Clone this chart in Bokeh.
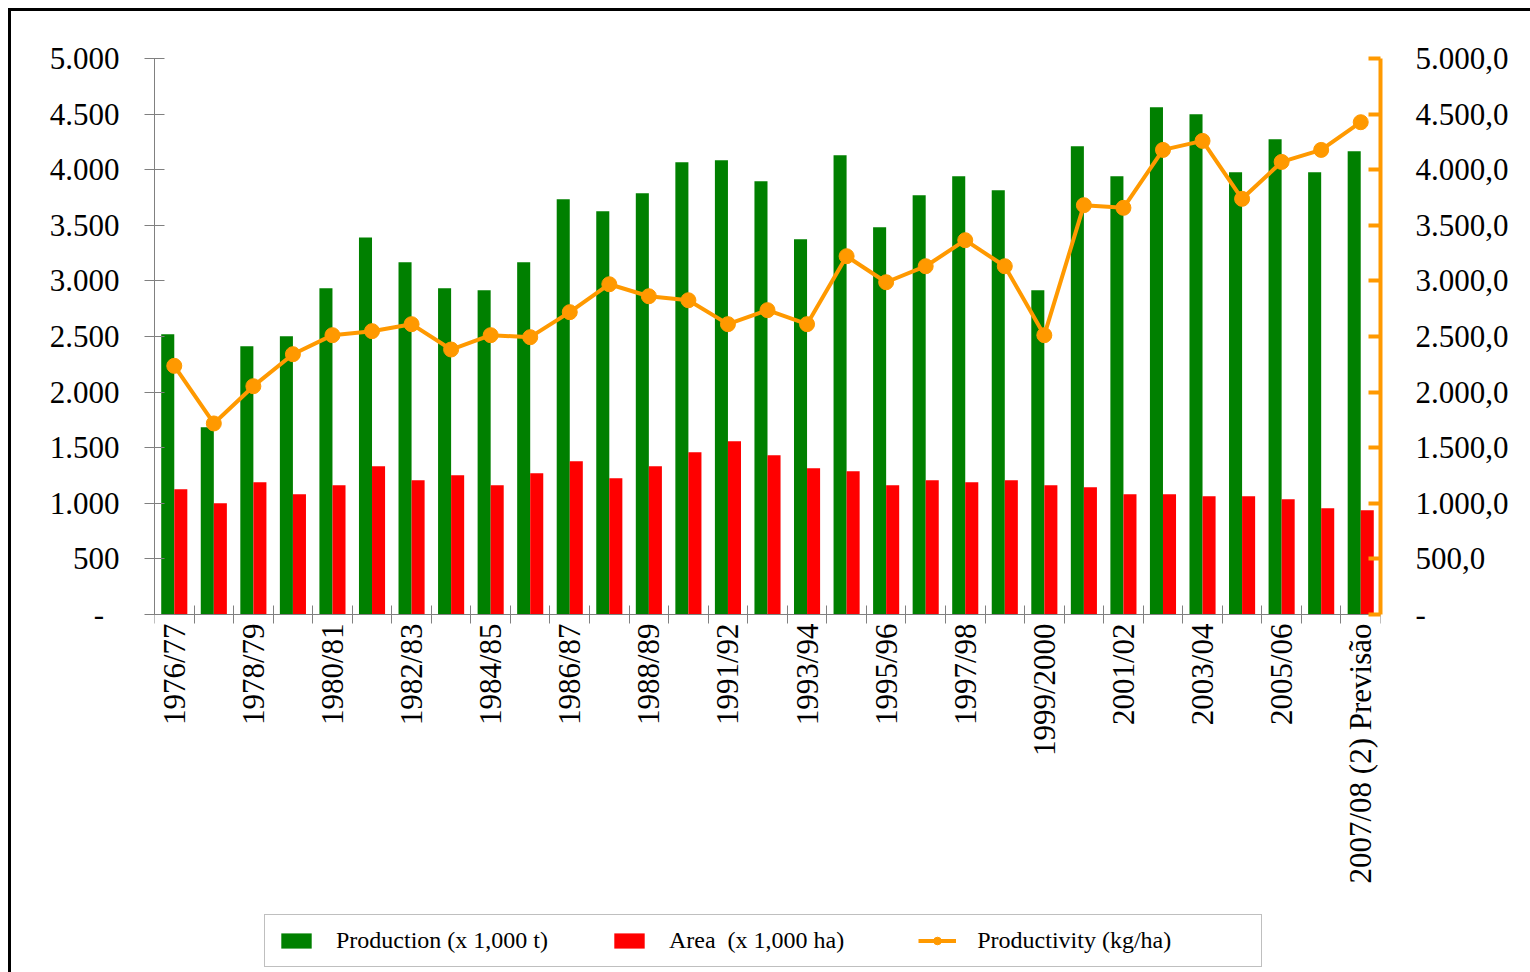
import math
from bokeh.plotting import figure
from bokeh.models import (ColumnDataSource, Range1d, LinearAxis, FixedTicker,
                          Legend, LegendItem)
from bokeh.transform import dodge
from bokeh.embed import file_html
from bokeh.resources import INLINE

CATEGORIES = ["1976/77", "1977/78", "1978/79", "1979/80", "1980/81", "1981/82",
              "1982/83", "1983/84", "1984/85", "1985/86", "1986/87", "1987/88",
              "1988/89", "1989/90", "1991/92", "1992/93", "1993/94", "1994/95",
              "1995/96", "1996/97", "1997/98", "1998/99", "1999/2000", "2000/01",
              "2001/02", "2002/03", "2003/04", "2004/05", "2005/06", "2006/07",
              "2007/08 (2) Previsão"]
PRODUCTION = [2520, 1685, 2413, 2503, 2934, 3390, 3168, 2934, 2916, 3168, 3735,
              3627, 3789, 4067, 4085, 3897, 3375, 4130, 3483, 3771, 3942, 3815,
              2916, 4211, 3942, 4562, 4499, 3978, 4274, 3978, 4166]
AREA = [1127, 1001, 1190, 1082, 1163, 1334, 1208, 1253, 1163, 1271, 1379, 1226,
        1334, 1460, 1558, 1433, 1316, 1289, 1163, 1208, 1190, 1208, 1163, 1145,
        1082, 1082, 1064, 1064, 1037, 956, 938]
PRODUCTIVITY = [2236, 1718, 2053, 2341, 2512, 2548, 2611, 2383, 2512, 2494, 2719,
                2970, 2862, 2826, 2611, 2737, 2611, 3222, 2988, 3132, 3366, 3132,
                2512, 3681, 3657, 4178, 4259, 3738, 4070, 4178, 4427]
Y_TICKS = [0, 500, 1000, 1500, 2000, 2500, 3000, 3500, 4000, 4500, 5000]
LEFT_LABELS = ["-\u00a0\u00a0", "500", "1.000", "1.500", "2.000", "2.500", "3.000",
               "3.500", "4.000", "4.500", "5.000"]
RIGHT_LABELS = ["-", "500,0", "1.000,0", "1.500,0", "2.000,0", "2.500,0", "3.000,0",
                "3.500,0", "4.000,0", "4.500,0", "5.000,0"]
SERIES_NAMES = ["Production (x 1,000 t)", "Area  (x 1,000 ha)", "Productivity (kg/ha)"]

GREEN = "#008000"
RED = "#FF0000"
ORANGE = "#FF9900"
GREY = "#808080"
FONT = "Liberation Serif"

n = len(CATEGORIES)
idx = list(range(n))
src = ColumnDataSource(dict(x=idx, cat=CATEGORIES, prod=PRODUCTION, area=AREA,
                            yld=PRODUCTIVITY))

# layout (canvas pixels; canvas starts 11px into the page)
W, H = 1519, 961
FL, FR, FT = 143, 1369, 47
PLOT_PX = 556                 # pixels between 0 and 5000
FH = 912                      # frame height (extends below the axis for the legend)
Y_MAX = 5000
Y_MIN = -(FH - PLOT_PX) * Y_MAX / PLOT_PX

p = figure(width=W, height=H, output_backend="svg", toolbar_location=None,
           frame_width=FR - FL, frame_height=FH,
           x_range=Range1d(-0.5, n - 0.5), y_range=Range1d(Y_MIN, Y_MAX),
           min_border_left=FL, min_border_right=W - FR, min_border_top=FT,
           min_border_bottom=H - FT - FH)
p.styles = {"border-top": "3px solid black", "border-left": "3px solid black",
            "margin-left": "8px", "margin-top": "8px"}
p.extra_y_ranges = {"right": Range1d(Y_MIN, Y_MAX)}
p.outline_line_color = None
p.xgrid.visible = False
p.ygrid.visible = False
p.background_fill_color = "white"
p.border_fill_color = "white"

g = p.vbar(x=dodge("x", -0.165, range=p.x_range), top="prod", width=0.33,
           source=src, fill_color=GREEN, line_color=None)
r = p.vbar(x=dodge("x", 0.165, range=p.x_range), top="area", width=0.33,
           source=src, fill_color=RED, line_color=None)
ln = p.line(x="x", y="yld", source=src, line_color=ORANGE, line_width=4,
            y_range_name="right")
sc = p.scatter(x="x", y="yld", source=src, size=15, fill_color=ORANGE,
               line_color=ORANGE, y_range_name="right")

# left axis
ya = p.yaxis[0]
ya.ticker = FixedTicker(ticks=Y_TICKS)
ya.bounds = (0, Y_MAX)
ya.major_label_overrides = {t: l for t, l in zip(Y_TICKS, LEFT_LABELS)}
ya.axis_line_color = GREY
ya.major_tick_line_color = GREY
ya.major_tick_in = 10
ya.major_tick_out = 10
ya.minor_tick_line_color = None
ya.major_label_standoff = 25
ya.major_label_text_font = FONT
ya.major_label_text_font_size = "31px"
ya.major_label_text_color = "black"

# right axis
ra = LinearAxis(y_range_name="right", ticker=FixedTicker(ticks=Y_TICKS),
                bounds=(0, Y_MAX))
ra.major_label_overrides = {t: l for t, l in zip(Y_TICKS, RIGHT_LABELS)}
ra.axis_line_color = ORANGE
ra.axis_line_width = 4
ra.major_tick_line_color = ORANGE
ra.major_tick_line_width = 4
ra.major_tick_in = 12
ra.major_tick_out = 0
ra.minor_tick_line_color = None
ra.major_label_standoff = 35
ra.major_label_text_font = FONT
ra.major_label_text_font_size = "31px"
ra.major_label_text_color = "black"
p.add_layout(ra, "right")

# bottom axis, pinned at y = 0
xa = p.xaxis[0]
xa.fixed_location = 0
label_idx = [i for i in idx if i % 2 == 0]
xa.ticker = FixedTicker(ticks=label_idx, minor_ticks=[i - 0.5 for i in range(n + 1)])
xa.major_label_overrides = {i: CATEGORIES[i] for i in label_idx}
xa.major_label_orientation = math.pi / 2
xa.axis_line_color = GREY
xa.major_tick_line_color = None
xa.major_tick_in = 0
xa.major_tick_out = 0
xa.minor_tick_line_color = GREY
xa.minor_tick_in = 9
xa.minor_tick_out = 9
xa.major_label_standoff = 0
xa.major_label_text_font = FONT
xa.major_label_text_font_size = "31px"
xa.major_label_text_color = "black"

nb = "\u00a0"
legend = Legend(items=[
    LegendItem(label=SERIES_NAMES[0] + nb * 5, renderers=[g]),
    LegendItem(label=SERIES_NAMES[1] + nb * 7, renderers=[r]),
    LegendItem(label=SERIES_NAMES[2] + nb * 13, renderers=[ln, sc]),
], orientation="horizontal", location=(110, 3))
legend.glyph_width = 38
legend.glyph_height = 19
legend.label_standoff = 21
legend.spacing = 32
legend.padding = 12
legend.margin = 0
legend.label_text_font = FONT
legend.label_text_font_size = "24px"
legend.label_text_color = "black"
legend.border_line_color = GREY
legend.border_line_width = 1.5
legend.background_fill_alpha = 1
p.add_layout(legend, "center")

open("out.html", "w").write(file_html(p, INLINE))
